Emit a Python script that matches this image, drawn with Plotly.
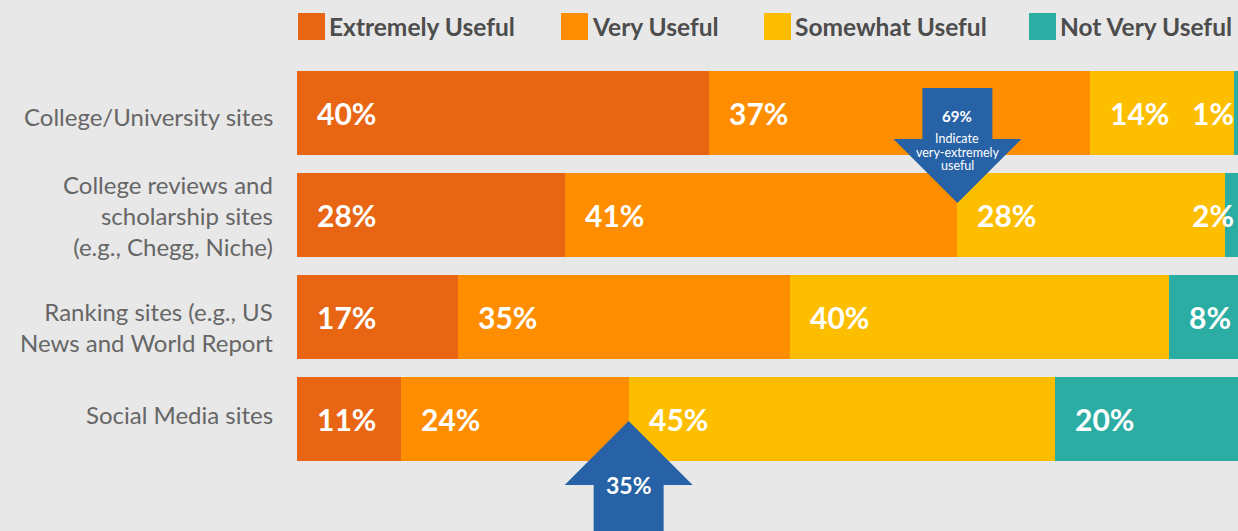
import plotly.graph_objects as go

# Survey data: share of respondents rating each source type
categories = [
    "College/University sites",
    "College reviews and<br>scholarship sites<br>(e.g., Chegg, Niche)",
    "Ranking sites (e.g., US<br>News and World Report",
    "Social Media sites",
]
series_names = ["Extremely Useful", "Very Useful", "Somewhat Useful", "Not Very Useful"]
extremely = [40, 28, 17, 11]
very = [37, 41, 35, 24]
somewhat = [14, 28, 40, 45]
not_very = [1, 2, 8, 20]

series_values = [extremely, very, somewhat, not_very]
colors = ["#E86613", "#FF8D00", "#FDBE00", "#2BADA4"]
arrow_color = "#2862A6"
bg = "#E8E8E8"
FONT = "Lato"

XMAX = 99.31  # visible part of the 0-100 normalised axis

fig = go.Figure()
for name, vals, col in zip(series_names, series_values, colors):
    fig.add_trace(go.Bar(
        y=categories, x=vals, name=name, orientation="h",
        marker=dict(color=col, line=dict(width=0)),
        showlegend=False, hoverinfo="skip",
    ))

annotations = []


def stacked_lines(text, spacing, yshift=0, **kw):
    """Multi-line annotation with explicit line spacing (px)."""
    lines = text.split("<br>")
    n = len(lines)
    for k, line in enumerate(lines):
        annotations.append(dict(text=line, showarrow=False, yanchor="middle",
                                yshift=yshift + ((n - 1) / 2 - k) * spacing, **kw))


# Category labels to the left of the bars
label_offsets = [-3, 0, -10, 5]
for cat, off in zip(categories, label_offsets):
    annotations.append(dict(text=cat, x=0, y=cat, xref="paper", yref="y",
                            xanchor="right", yanchor="middle", align="right",
                            xshift=-22, yshift=off, showarrow=False,
                            font=dict(family=FONT, size=24, color="#666666")))

# Value labels at the left edge of each (row-normalised) segment
row_totals = [sum(v[i] for v in series_values) for i in range(len(categories))]
for i, cat in enumerate(categories):
    start = 0.0
    for vals in series_values:
        width = vals[i] / row_totals[i] * 100
        common = dict(y=cat, xref="x", yref="y", text=f"<b>{vals[i]}%</b>",
                      showarrow=False, yanchor="middle",
                      font=dict(family=FONT, size=30, color="white"))
        if width < 4:
            annotations.append(dict(x=XMAX, xanchor="right", xshift=-2, **common))
        else:
            annotations.append(dict(x=start, xanchor="left", xshift=18, **common))
        start += width

# Cumulative boundaries used as arrow tips
tip_down = (extremely[1] + very[1]) / row_totals[1] * 100
tip_up = (extremely[3] + very[3]) / row_totals[3] * 100
n = len(categories)
row2_paper = (n - 0.5 - 1) / n
row4_paper = (n - 0.5 - 3) / n

shapes = [
    dict(type="path", xref="x", yref="paper", xsizemode="pixel", ysizemode="pixel",
         xanchor=tip_down, yanchor=row2_paper, layer="above",
         path="M -35,127 L 35,127 L 35,76 L 64,76 L 0,12 L -64,76 L -35,76 Z",
         fillcolor=arrow_color, line=dict(width=0)),
    dict(type="path", xref="x", yref="paper", xsizemode="pixel", ysizemode="pixel",
         xanchor=tip_up, yanchor=row4_paper, layer="above",
         path="M 0,-2 L 64,-66 L 35,-66 L 35,-150 L -35,-150 L -35,-66 L -64,-66 Z",
         fillcolor=arrow_color, line=dict(width=0)),
]

annotations.append(dict(x=tip_down, y=row2_paper, xref="x", yref="paper",
                        text="<b>69%</b>", showarrow=False, xanchor="center",
                        yanchor="middle", yshift=99,
                        font=dict(family=FONT, size=15, color="white")))
stacked_lines("Indicate<br>very-extremely<br>useful", 13.5, yshift=63,
              x=tip_down, y=row2_paper, xref="x", yref="paper", xanchor="center",
              font=dict(family=FONT, size=12.5, color="white"))
annotations.append(dict(x=tip_up, y=row4_paper, xref="x", yref="paper",
                        text="<b>35%</b>", showarrow=False, xanchor="center",
                        yanchor="middle", yshift=-66,
                        font=dict(family=FONT, size=23, color="white")))

# Legend with large square swatches
legend_sq_x = [1, 264, 467, 732]  # px offsets from plot left edge
for name, col, px in zip(series_names, colors, legend_sq_x):
    shapes.append(dict(type="rect", xref="paper", yref="paper",
                       xsizemode="pixel", ysizemode="pixel", xanchor=0, yanchor=1,
                       x0=px, x1=px + 27, y0=22, y1=49,
                       fillcolor=col, line=dict(width=0)))
    annotations.append(dict(x=0, y=1, xref="paper", yref="paper", text=f"<b>{name}</b>",
                            showarrow=False, xanchor="left", yanchor="middle",
                            xshift=px + 29, yshift=35.5,
                            font=dict(family=FONT, size=24.5, color="#4D4D4D")))

fig.update_layout(
    barmode="stack", barnorm="percent", bargap=0.186,
    width=1238, height=531,
    margin=dict(l=297, r=0, t=62, b=61),
    paper_bgcolor=bg, plot_bgcolor=bg,
    xaxis=dict(range=[0, XMAX], visible=False, fixedrange=True),
    yaxis=dict(autorange="reversed", showgrid=False, zeroline=False, showline=False,
               showticklabels=False, ticks="", fixedrange=True),
    shapes=shapes, annotations=annotations,
    showlegend=False,
)

fig.write_html("out.html")
